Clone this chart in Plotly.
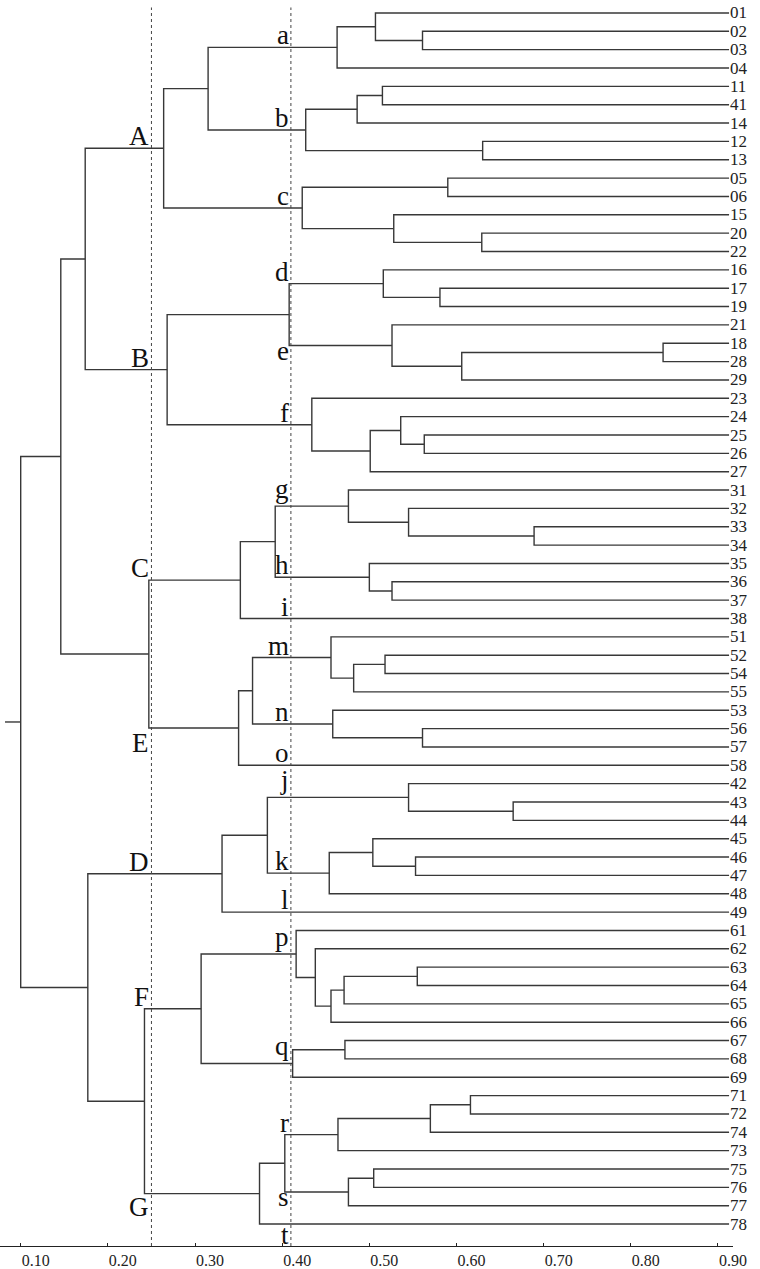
import plotly.graph_objects as go

# ====================================================
# DATA
# ====================================================
# leaf order, top to bottom
leaves = ["01", "02", "03", "04", "11", "41", "14", "12", "13",
          "05", "06", "15", "20", "22", "16", "17", "19", "21",
          "18", "28", "29", "23", "24", "25", "26", "27", "31",
          "32", "33", "34", "35", "36", "37", "38", "51", "52",
          "54", "55", "53", "56", "57", "58", "42", "43", "44",
          "45", "46", "47", "48", "49", "61", "62", "63", "64",
          "65", "66", "67", "68", "69", "71", "72", "74", "73",
          "75", "76", "77", "78"]

# merges: (cluster, left child, right child, similarity)
merges_A = [
    ("n0203", "02", "03", 0.561), ("n0103", "01", "n0203", 0.507),
    ("a", "n0103", "04", 0.463),
    ("n1141", "11", "41", 0.515), ("n1114", "n1141", "14", 0.486),
    ("n1213", "12", "13", 0.630), ("b", "n1114", "n1213", 0.427),
    ("ab", "a", "b", 0.315),
    ("n0506", "05", "06", 0.590), ("n2022", "20", "22", 0.629),
    ("n1522", "15", "n2022", 0.528), ("c", "n0506", "n1522", 0.423),
    ("A", "ab", "c", 0.264),
]
merges_B = [
    ("n1719", "17", "19", 0.581), ("d", "16", "n1719", 0.516),
    ("n1828", "18", "28", 0.837), ("n1829", "n1828", "29", 0.606),
    ("e", "21", "n1829", 0.526), ("de", "d", "e", 0.408),
    ("n2526", "25", "26", 0.563), ("n2426", "24", "n2526", 0.536),
    ("n2427", "n2426", "27", 0.501), ("f", "23", "n2427", 0.434),
    ("B", "de", "f", 0.268),
    ("AB", "A", "B", 0.174),
]
merges_C = [
    ("n3334", "33", "34", 0.689), ("n3234", "32", "n3334", 0.545),
    ("g", "31", "n3234", 0.476),
    ("n3637", "36", "37", 0.526), ("h", "35", "n3637", 0.500),
    ("gh", "g", "h", 0.392), ("C", "gh", "38", 0.352),
]
merges_E = [
    ("n5254", "52", "54", 0.518), ("n5255", "n5254", "55", 0.482),
    ("m", "51", "n5255", 0.456),
    ("n5657", "56", "57", 0.561), ("n", "53", "n5657", 0.458),
    ("mn", "m", "n", 0.366), ("E", "mn", "58", 0.350),
    ("CE", "C", "E", 0.247),
    ("ABCE", "AB", "CE", 0.146),
]
merges_D = [
    ("n4344", "43", "44", 0.665), ("j", "42", "n4344", 0.545),
    ("n4647", "46", "47", 0.553), ("n4547", "45", "n4647", 0.504),
    ("k", "n4547", "48", 0.454), ("jk", "j", "k", 0.383),
    ("D", "jk", "49", 0.331),
]
merges_F = [
    ("n6364", "63", "64", 0.555), ("n6365", "n6364", "65", 0.471),
    ("n6366", "n6365", "66", 0.456), ("n6266", "62", "n6366", 0.438),
    ("p", "61", "n6266", 0.416),
    ("n6768", "67", "68", 0.472), ("q", "n6768", "69", 0.412),
    ("F", "p", "q", 0.307),
]
merges_G = [
    ("n7172", "71", "72", 0.616), ("n7174", "n7172", "74", 0.570),
    ("r", "n7174", "73", 0.464),
    ("n7576", "75", "76", 0.505), ("s", "n7576", "77", 0.476),
    ("rs", "r", "s", 0.403), ("G", "rs", "78", 0.374),
    ("FG", "F", "G", 0.242),
    ("DFG", "D", "FG", 0.177),
    ("root", "ABCE", "DFG", 0.100),
]

leaf_sim = 0.9127
root_start = 0.082
cut_levels = [0.25, 0.41]

# group letters: (text, cluster/leaf whose line it marks, above/below)
sub_groups = [("a", "a", "up"), ("b", "b", "up"), ("c", "c", "up"),
              ("d", "d", "up"), ("e", "e", "down"), ("f", "f", "up"),
              ("g", "g", "up"), ("h", "h", "up"), ("i", "38", "up"),
              ("m", "m", "up"), ("n", "n", "up"), ("o", "58", "up"),
              ("j", "j", "up"), ("k", "k", "up"), ("l", "49", "up"),
              ("p", "p", "up"), ("q", "q", "up"), ("r", "r", "up"),
              ("s", "s", "down"), ("t", "78", "down")]
main_groups = [("A", "A", "up"), ("B", "B", "up"), ("C", "C", "up"),
               ("E", "E", "down"), ("D", "D", "up"), ("F", "F", "up"),
               ("G", "G", "down")]

tick_vals = [0.1, 0.2, 0.3, 0.4, 0.5, 0.6, 0.7, 0.8, 0.9]

# ====================================================
# TREE GEOMETRY
# ====================================================
pos = {name: (leaf_sim, i) for i, name in enumerate(leaves)}
xs, ys = [], []
for group in [merges_A, merges_B, merges_C, merges_E, merges_D, merges_F, merges_G]:
    for name, left, right, h in group:
        x1, y1 = pos[left]
        x2, y2 = pos[right]
        xs += [x1, h, h, x2, None]
        ys += [y1, y1, y2, y2, None]
        pos[name] = (h, (y1 + y2) / 2)

root_y = pos["root"][1]
xs += [root_start, pos["root"][0], None]
ys += [root_y, root_y, None]

line_color = "#383838"
font_family = "Liberation Serif, Times New Roman, serif"

fig = go.Figure()
fig.add_trace(go.Scatter(
    x=xs, y=ys, mode="lines",
    line=dict(color=line_color, width=1.4),
    hoverinfo="skip", showlegend=False
))

# cut lines
for c in cut_levels:
    fig.add_shape(type="line", xref="x", yref="paper",
                  x0=c, x1=c, y0=0, y1=0.994,
                  line=dict(color="#444444", width=1, dash="dot"))

# leaf labels
for i, name in enumerate(leaves):
    fig.add_annotation(x=leaf_sim, y=i, text=name, showarrow=False,
                       xanchor="left", yanchor="middle", xshift=-1,
                       font=dict(family=font_family, size=17, color="#222222"))

def put_letter(text, node, where, xval):
    y = pos[node][1]
    if where == "up":
        anchor = "bottom"
        shift = 0 if text in "gjpq" else -5
    else:
        anchor = "top"
        shift = {"e": 12, "s": 12, "t": 6, "E": 2, "G": 4}[text]
    fig.add_annotation(x=xval, y=y, text=text, showarrow=False,
                       xanchor="right", yanchor=anchor, yshift=shift,
                       font=dict(family=font_family, size=27, color="#111111"))

for text, node, where in sub_groups:
    put_letter(text, node, where, cut_levels[1])
for text, node, where in main_groups:
    put_letter(text, node, where, cut_levels[0])

# ====================================================
# LAYOUT
# ====================================================
fig.update_layout(
    width=760, height=1269,
    margin=dict(l=0, r=27, t=0, b=20),
    paper_bgcolor="white", plot_bgcolor="white",
    xaxis=dict(
        range=[0.07625, 0.91722],
        tickvals=tick_vals,
        ticktext=["%.2f" % v for v in tick_vals],
        ticks="inside", ticklen=3, tickcolor="#222222",
        ticklabelshift=15,
        showline=True, linecolor="#222222", linewidth=1,
        showgrid=False, zeroline=False,
        tickfont=dict(family=font_family, size=16, color="#222222"),
    ),
    yaxis=dict(
        range=[67.196, -0.707],
        visible=False, showgrid=False, zeroline=False,
    ),
)

# page body has a default 8px margin; drop it so the figure fills the window
fig.write_html("out.html",
               config={"displayModeBar": False},
               post_script="document.body.style.margin='0';document.body.style.overflow='hidden';")
